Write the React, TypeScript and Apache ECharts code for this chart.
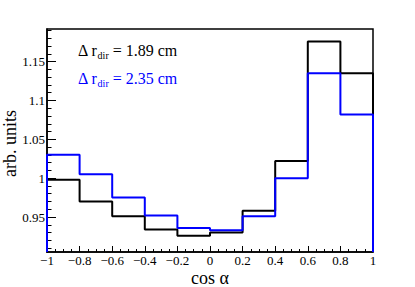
import React, { useEffect, useRef } from "react";
import * as echarts from "echarts";

const binEdges = [-1, -0.8, -0.6, -0.4, -0.2, 0, 0.2, 0.4, 0.6, 0.8, 1];
const blackValues = [0.998, 0.970, 0.951, 0.934, 0.926, 0.930, 0.958, 1.022, 1.176, 1.135];
const blueValues = [1.030, 1.005, 0.975, 0.952, 0.936, 0.933, 0.951, 1.000, 1.135, 1.082];
const yMin = 0.905;
const yMax = 1.192;
const yMajorTicks = [0.95, 1, 1.05, 1.1, 1.15];
const yMinorTicks = [
  0.91, 0.92, 0.93, 0.94, 0.96, 0.97, 0.98, 0.99, 1.01, 1.02, 1.03, 1.04,
  1.06, 1.07, 1.08, 1.09, 1.11, 1.12, 1.13, 1.14, 1.16, 1.17, 1.18, 1.19,
];
const legendLabels = ["1.89 cm", "2.35 cm"];
const FONT = "Liberation Serif";

function histPoints(values: number[]): number[][] {
  const pts: number[][] = [[binEdges[0], yMin]];
  values.forEach((v, i) => pts.push([binEdges[i], v]));
  pts.push([binEdges[binEdges.length - 1], values[values.length - 1]]);
  pts.push([binEdges[binEdges.length - 1], yMin]);
  return pts;
}

export default function App() {
  const ref = useRef<HTMLDivElement>(null);
  useEffect(() => {
    if (!ref.current) return;
    const chart = echarts.init(ref.current, undefined, { renderer: "svg" });
    const legendText = (color: string, value: string, top: number) => ({
      type: "text",
      left: 78,
      top,
      style: {
        text: `{m|Δ r}{s|dir}{m| = ${value}}`,
        rich: {
          m: { fontSize: 16, fontFamily: FONT, fill: color, lineHeight: 20, verticalAlign: "middle" },
          s: { fontSize: 10, fontFamily: FONT, fill: color, lineHeight: 20, verticalAlign: "bottom" },
        },
      },
    });
    chart.setOption({
      animation: false,
      backgroundColor: "#ffffff",
      textStyle: { fontFamily: FONT },
      grid: {
        left: 47,
        right: 42,
        top: 29,
        bottom: 35,
        outerBoundsMode: "none",
        containLabel: false,
        show: true,
        borderColor: "#000",
        borderWidth: 1.5,
        backgroundColor: "transparent",
      },
      xAxis: {
        type: "value",
        min: -1,
        max: 1,
        interval: 0.2,
        name: "cos α",
        nameLocation: "middle",
        nameGap: 17,
        nameMoveOverlap: false,
        nameTextStyle: { fontFamily: FONT, fontSize: 18, color: "#000" },
        axisLine: { onZero: false, lineStyle: { color: "#000", width: 1.5 } },
        axisTick: { inside: true, length: 6, lineStyle: { color: "#000" } },
        minorTick: { show: true, splitNumber: 4, length: 3, lineStyle: { color: "#000" } },
        splitLine: { show: false },
        axisLabel: {
          fontFamily: FONT,
          fontSize: 13,
          color: "#000",
          margin: 2,
          formatter: (v: number) => (v < 0 ? "\u2212" + String(Math.abs(v)) : String(v)),
        },
      },
      yAxis: [
        {
          type: "value",
          min: yMin,
          max: yMax,
          name: "arb. units",
          nameLocation: "middle",
          nameGap: 28.5,
          nameMoveOverlap: false,
          nameTextStyle: { fontFamily: FONT, fontSize: 18, color: "#000", padding: [0, 6, 0, 0] },
          axisLine: { onZero: false, lineStyle: { color: "#000", width: 1.5 } },
          axisTick: { inside: true, length: 9, customValues: yMajorTicks, lineStyle: { color: "#000" } },
          axisLabel: {
            customValues: yMajorTicks,
            fontFamily: FONT,
            fontSize: 13,
            color: "#000",
            margin: 2,
          },
          splitLine: { show: false },
        },
        {
          type: "value",
          min: yMin,
          max: yMax,
          position: "left",
          axisLine: { show: false, onZero: false },
          axisTick: { show: true, inside: true, length: 4.5, customValues: yMinorTicks, lineStyle: { color: "#000" } },
          axisLabel: { show: false },
          splitLine: { show: false },
        },
      ],
      graphic: [legendText("#000000", legendLabels[0], 42), legendText("#0000ff", legendLabels[1], 70)],
      series: [
        {
          type: "line",
          name: "Δ r_dir = 1.89 cm",
          step: "end",
          data: histPoints(blackValues),
          symbol: "none",
          lineStyle: { color: "#000000", width: 2 },
          yAxisIndex: 0,
        },
        {
          type: "line",
          name: "Δ r_dir = 2.35 cm",
          step: "end",
          data: histPoints(blueValues),
          symbol: "none",
          lineStyle: { color: "#0000ff", width: 2 },
          yAxisIndex: 0,
        },
      ],
    });
    return () => chart.dispose();
  }, []);
  return (
    <div
      ref={ref}
      style={{ position: "fixed", left: 0, top: 0, width: 415, height: 287, background: "#fff" }}
    />
  );
}
